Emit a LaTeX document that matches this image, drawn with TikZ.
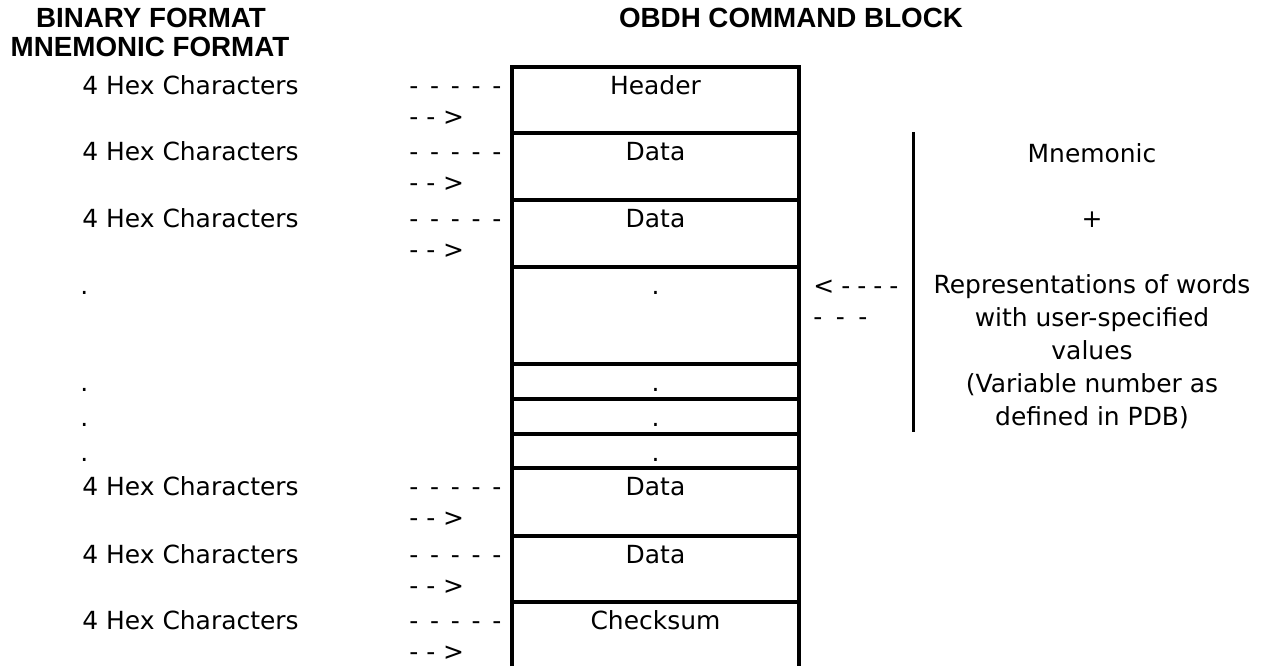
\documentclass[tikz,border=0pt]{standalone}
\usepackage{fontspec}
\setmainfont{DejaVu Sans}
\newfontfamily\headfont{Liberation Sans}
\begin{document}
\begin{tikzpicture}[
  x=0.02cm, y=-0.02cm,
  cell/.style={draw, line width=1.9pt},
  txt/.style={font=\fontsize{14.2pt}{18.7pt}\selectfont, inner sep=0pt, anchor=base},
  head/.style={font=\headfont\bfseries\fontsize{15.8pt}{18pt}\selectfont, inner sep=0pt},
  dashes/.style={txt, anchor=base west},
]
  \useasboundingbox (0,0) rectangle (1267,666);

  \node[head] (binary) at (151,18) {BINARY FORMAT};
  \node[head] (mnemonic) at (150,47) {MNEMONIC FORMAT};
  \node[head] (obdh) at (791,18) {OBDH COMMAND BLOCK};

  \foreach \rt/\rb/\nm/\lbl in {67/133/hdr/Header, 133/200/dat1/Data, 200/267/dat2/Data,
      267/364/gap1/., 364/399/gap2/., 399/434/gap3/., 434/468/gap4/.,
      468/536/dat3/Data, 536/602/dat4/Data}{
    \draw[cell] (512,\rt) rectangle (799,\rb);
    \node[txt] (\nm) at (655.5,\rt+27) {\lbl};
  }
  \draw[cell] (512,666) -- (512,602) -- (799,602) -- (799,666);
  \node[txt] (chk) at (655.5,629) {Checksum};

  \foreach \rt/\nm in {67/a, 133/b, 200/c, 468/d, 536/e, 602/f}{
    \node[txt, anchor=base west] (hex\nm) at (82,\rt+27) {4 Hex Characters};
    \node[dashes] (dl\nm) at (409,\rt+27) {\makebox[1.84cm][s]{- - - - -}};
    \node[dashes] (da\nm) at (409,\rt+58) {- - >};
  }
  \foreach \rt/\nm in {267/a, 364/b, 399/c, 434/d}
    \node[txt, anchor=base west] (dot\nm) at (80,\rt+27) {.};

  \node[dashes] (back1) at (813,294) {\makebox[1.70cm][s]{< - - - -}};
  \node[dashes] (back2) at (813,325) {\makebox[1.08cm][s]{- - -}};
  \draw[cell, line width=1.7pt] (913,132) -- (913,432);

  \node[txt, align=center] (desc) at (1092,425) {Mnemonic\\[18.7pt]+\\[18.7pt]Representations of words\\with user-specified\\values\\(Variable number as\\defined in PDB)};
\end{tikzpicture}
\end{document}
